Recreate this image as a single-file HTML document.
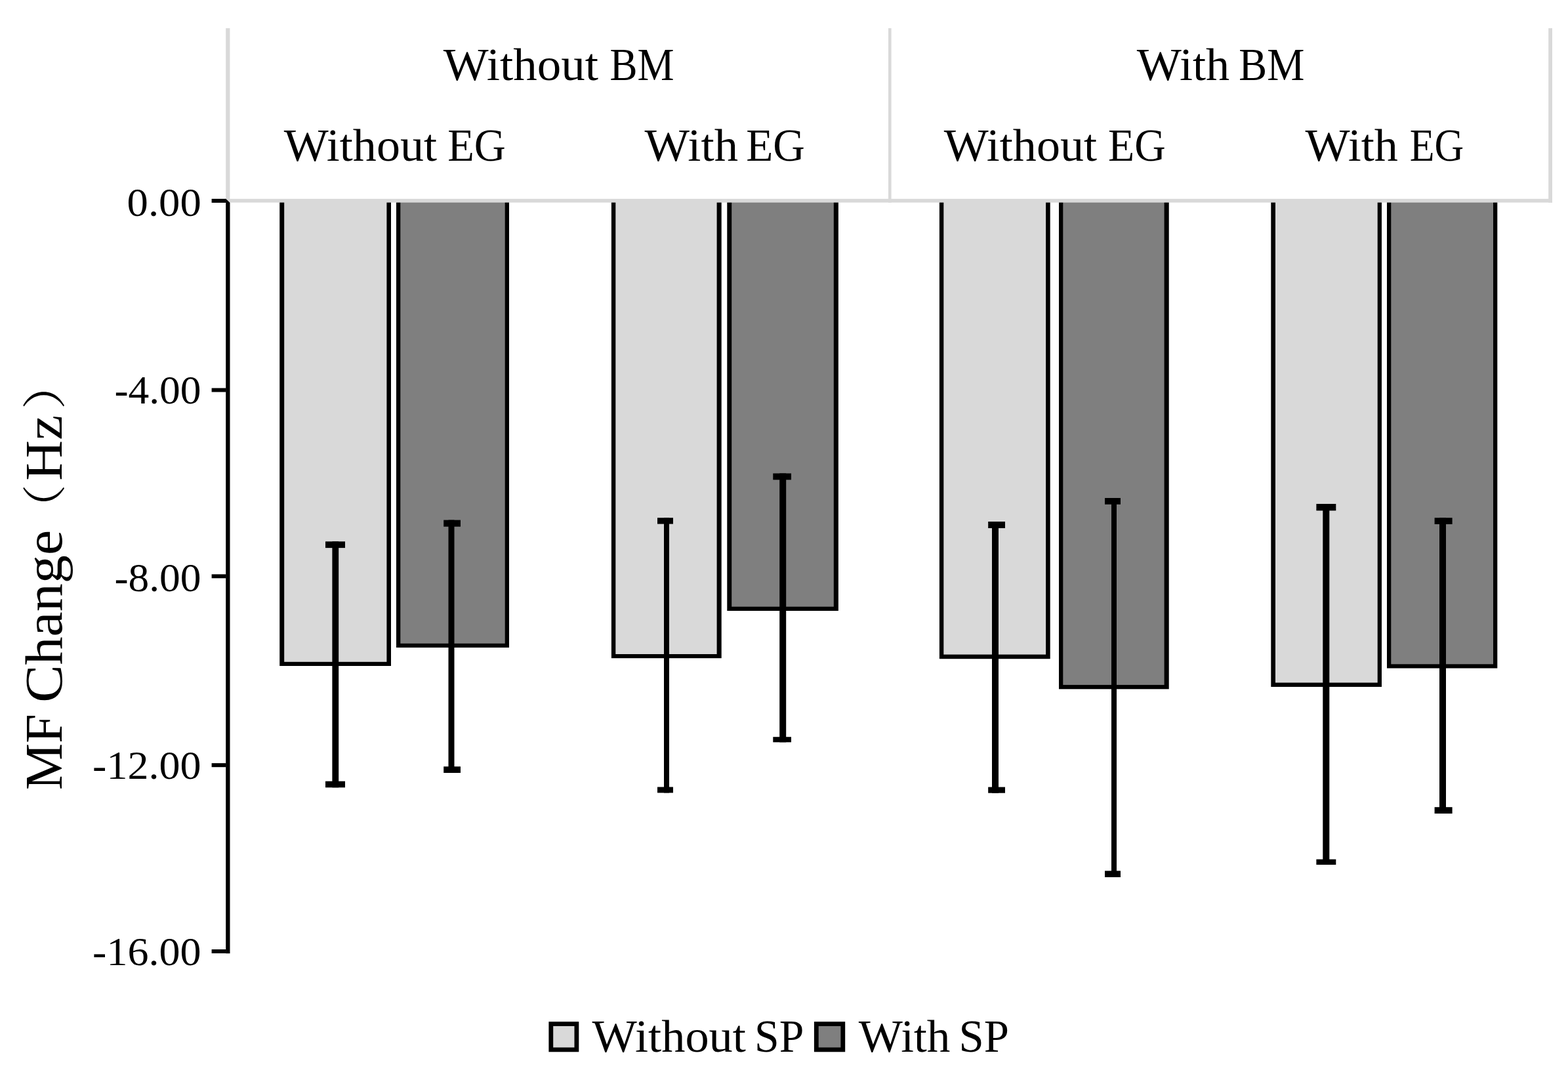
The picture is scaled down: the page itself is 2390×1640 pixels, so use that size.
<!DOCTYPE html>
<html lang="en">
<head>
<meta charset="utf-8">
<title>MF Change (Hz) bar chart</title>
<style>
html,body{margin:0;padding:0;background:#fff;}
body{width:2390px;height:1640px;overflow:hidden;}
svg{display:block;}
text{font-family:"Liberation Serif","Noto Serif CJK SC","Noto Sans CJK SC",serif;fill:#000;white-space:pre;}
</style>
</head>
<body>
<svg width="2390" height="1640" viewBox="0 0 2390 1640" role="img" aria-label="Bar chart of MF Change (Hz)">
<rect id="bg" x="0" y="0" width="2390" height="1640" fill="#fff"/>
<g id="shapes">
<g>
<rect x="426.20" y="306.00" width="169.80" height="709.00" fill="#000"/><rect x="433.20" y="306.00" width="156.20" height="702.80" fill="#d9d9d9"/>
<rect x="604.00" y="306.00" width="172.00" height="681.00" fill="#000"/><rect x="610.30" y="306.00" width="159.40" height="674.80" fill="#7f7f7f"/>
<rect x="931.90" y="306.00" width="167.80" height="697.20" fill="#000"/><rect x="938.30" y="306.00" width="154.30" height="691.00" fill="#d9d9d9"/>
<rect x="1108.30" y="306.00" width="169.60" height="625.00" fill="#000"/><rect x="1115.20" y="306.00" width="155.60" height="618.70" fill="#7f7f7f"/>
<rect x="1431.90" y="306.00" width="168.80" height="698.20" fill="#000"/><rect x="1438.30" y="306.00" width="155.80" height="691.60" fill="#d9d9d9"/>
<rect x="1614.00" y="306.00" width="167.70" height="744.30" fill="#000"/><rect x="1620.30" y="306.00" width="154.30" height="737.90" fill="#7f7f7f"/>
<rect x="1937.30" y="306.00" width="168.70" height="740.90" fill="#000"/><rect x="1944.00" y="306.00" width="155.70" height="734.50" fill="#d9d9d9"/>
<rect x="2114.00" y="306.00" width="168.30" height="712.50" fill="#000"/><rect x="2120.30" y="306.00" width="155.70" height="706.30" fill="#7f7f7f"/>
</g>
<g fill="#000">
<rect x="506.40" y="825.30" width="9.80" height="375.00"/><rect x="496.00" y="825.30" width="30.00" height="9.80"/><rect x="496.00" y="1190.70" width="30.00" height="9.60"/>
<rect x="683.50" y="792.60" width="9.00" height="385.40"/><rect x="676.20" y="792.60" width="25.80" height="10.10"/><rect x="676.20" y="1168.30" width="25.80" height="9.70"/>
<rect x="1012.00" y="789.20" width="8.00" height="419.20"/><rect x="1002.00" y="789.20" width="24.00" height="9.40"/><rect x="1002.00" y="1199.50" width="24.00" height="8.90"/>
<rect x="1188.20" y="721.50" width="10.00" height="409.80"/><rect x="1178.30" y="721.50" width="27.70" height="9.80"/><rect x="1178.30" y="1123.20" width="27.70" height="8.10"/>
<rect x="1512.00" y="795.00" width="10.00" height="413.70"/><rect x="1506.20" y="795.00" width="25.80" height="10.00"/><rect x="1506.20" y="1199.60" width="25.80" height="9.10"/>
<rect x="1694.00" y="759.00" width="8.00" height="578.00"/><rect x="1684.00" y="759.00" width="24.00" height="9.80"/><rect x="1684.00" y="1327.30" width="24.00" height="9.70"/>
<rect x="2016.30" y="768.00" width="10.00" height="550.00"/><rect x="2006.40" y="768.00" width="29.90" height="10.30"/><rect x="2006.40" y="1309.70" width="29.90" height="8.30"/>
<rect x="2194.00" y="789.20" width="10.00" height="450.80"/><rect x="2186.60" y="789.20" width="27.00" height="9.80"/><rect x="2186.60" y="1230.20" width="27.00" height="9.80"/>
</g>
<g fill="#d9d9d9">
<rect x="344.2" y="43" width="6.2" height="266"/>
<rect x="1354" y="43" width="4.6" height="266"/>
<rect x="2360.2" y="43" width="5.8" height="266"/>
<rect x="344.2" y="303.1" width="2021.8" height="5.6"/>
</g>
<g fill="#000">
<rect x="344.2" y="309" width="6.3" height="1144.2"/>
<polygon points="344.2,303.1 344.2,309 350.5,309"/>
<rect x="322.6" y="303.00" width="22" height="6"/>
<rect x="322.6" y="591.50" width="22" height="6"/>
<rect x="322.6" y="875.30" width="22" height="6"/>
<rect x="322.6" y="1163.20" width="22" height="6"/>
<rect x="322.6" y="1447.00" width="22" height="6"/>
</g>
<g stroke="#000" stroke-width="6.8">
<rect x="839.80" y="1560.60" width="39.10" height="39.30" fill="#d9d9d9"/>
<rect x="1244.30" y="1560.60" width="40.50" height="39.30" fill="#7f7f7f"/>
</g>
</g>
<text id="t0" font-size="60.50"><tspan id="t0_0" class="w" x="193.64" y="328.70" textLength="113.15" lengthAdjust="spacingAndGlyphs">0.00</tspan></text>
<text id="t4" font-size="60.50"><tspan id="t4_0" class="w" x="174.41" y="614.90" textLength="132.17" lengthAdjust="spacingAndGlyphs">-4.00</tspan></text>
<text id="t8" font-size="60.50"><tspan id="t8_0" class="w" x="174.41" y="900.70" textLength="132.17" lengthAdjust="spacingAndGlyphs">-8.00</tspan></text>
<text id="t12" font-size="60.50"><tspan id="t12_0" class="w" x="141.08" y="1186.80" textLength="165.47" lengthAdjust="spacingAndGlyphs">-12.00</tspan></text>
<text id="t16" font-size="60.50"><tspan id="t16_0" class="w" x="141.11" y="1471.30" textLength="165.49" lengthAdjust="spacingAndGlyphs">-16.00</tspan></text>
<text id="bm0" font-size="69.60"><tspan id="bm0_0" class="w" x="675.79" y="122.30" textLength="236.31" lengthAdjust="spacingAndGlyphs">Without</tspan> <tspan id="bm0_1" class="w" x="929.54" y="122.30" textLength="98.02" lengthAdjust="spacingAndGlyphs">BM</tspan></text>
<text id="bm1" font-size="69.60"><tspan id="bm1_0" class="w" x="1732.69" y="122.30" textLength="141.44" lengthAdjust="spacingAndGlyphs">With</tspan> <tspan id="bm1_1" class="w" x="1888.32" y="122.30" textLength="100.08" lengthAdjust="spacingAndGlyphs">BM</tspan></text>
<text id="eg0" font-size="69.60"><tspan id="eg0_0" class="w" x="432.69" y="244.90" textLength="233.31" lengthAdjust="spacingAndGlyphs">Without</tspan> <tspan id="eg0_1" class="w" x="682.13" y="244.90" textLength="88.63" lengthAdjust="spacingAndGlyphs">EG</tspan></text>
<text id="eg1" font-size="69.60"><tspan id="eg1_0" class="w" x="982.62" y="244.90" textLength="142.41" lengthAdjust="spacingAndGlyphs">With</tspan> <tspan id="eg1_1" class="w" x="1137.27" y="244.90" textLength="89.65" lengthAdjust="spacingAndGlyphs">EG</tspan></text>
<text id="eg2" font-size="69.60"><tspan id="eg2_0" class="w" x="1438.69" y="244.90" textLength="233.31" lengthAdjust="spacingAndGlyphs">Without</tspan> <tspan id="eg2_1" class="w" x="1689.01" y="244.90" textLength="87.58" lengthAdjust="spacingAndGlyphs">EG</tspan></text>
<text id="eg3" font-size="69.60"><tspan id="eg3_0" class="w" x="1989.52" y="244.90" textLength="141.39" lengthAdjust="spacingAndGlyphs">With</tspan> <tspan id="eg3_1" class="w" x="2148.73" y="244.90" textLength="82.39" lengthAdjust="spacingAndGlyphs">EG</tspan></text>
<text id="lg0" font-size="69.60"><tspan id="lg0_0" class="w" x="902.62" y="1602.80" textLength="234.27" lengthAdjust="spacingAndGlyphs">Without</tspan> <tspan id="lg0_1" class="w" x="1150.04" y="1602.80" textLength="75.24" lengthAdjust="spacingAndGlyphs">SP</tspan></text>
<text id="lg1" font-size="69.60"><tspan id="lg1_0" class="w" x="1308.89" y="1602.80" textLength="139.38" lengthAdjust="spacingAndGlyphs">With</tspan> <tspan id="lg1_1" class="w" x="1461.57" y="1602.80" textLength="76.34" lengthAdjust="spacingAndGlyphs">SP</tspan></text>
<g transform="translate(93.80,1202.00) rotate(-90)">
<text id="yt" font-size="79.40"><tspan id="yt_0" class="w" x="-2.02" y="0.00" textLength="115.79" lengthAdjust="spacingAndGlyphs">MF</tspan> <tspan id="yt_1" class="w" x="131.19" y="0.00" textLength="262.90" lengthAdjust="spacingAndGlyphs">Change</tspan><tspan id="yt_2" class="w" x="389.52" y="-2.00" font-size="67.00" textLength="74.39" lengthAdjust="spacingAndGlyphs">（</tspan><tspan id="yt_3" class="w" x="469.36" y="0.00" textLength="99.91" lengthAdjust="spacingAndGlyphs">Hz</tspan><tspan id="yt_4" class="w" x="577.68" y="-2.00" font-size="67.00" textLength="77.38" lengthAdjust="spacingAndGlyphs">）</tspan></text>
</g>
</svg>
</body>
</html>
